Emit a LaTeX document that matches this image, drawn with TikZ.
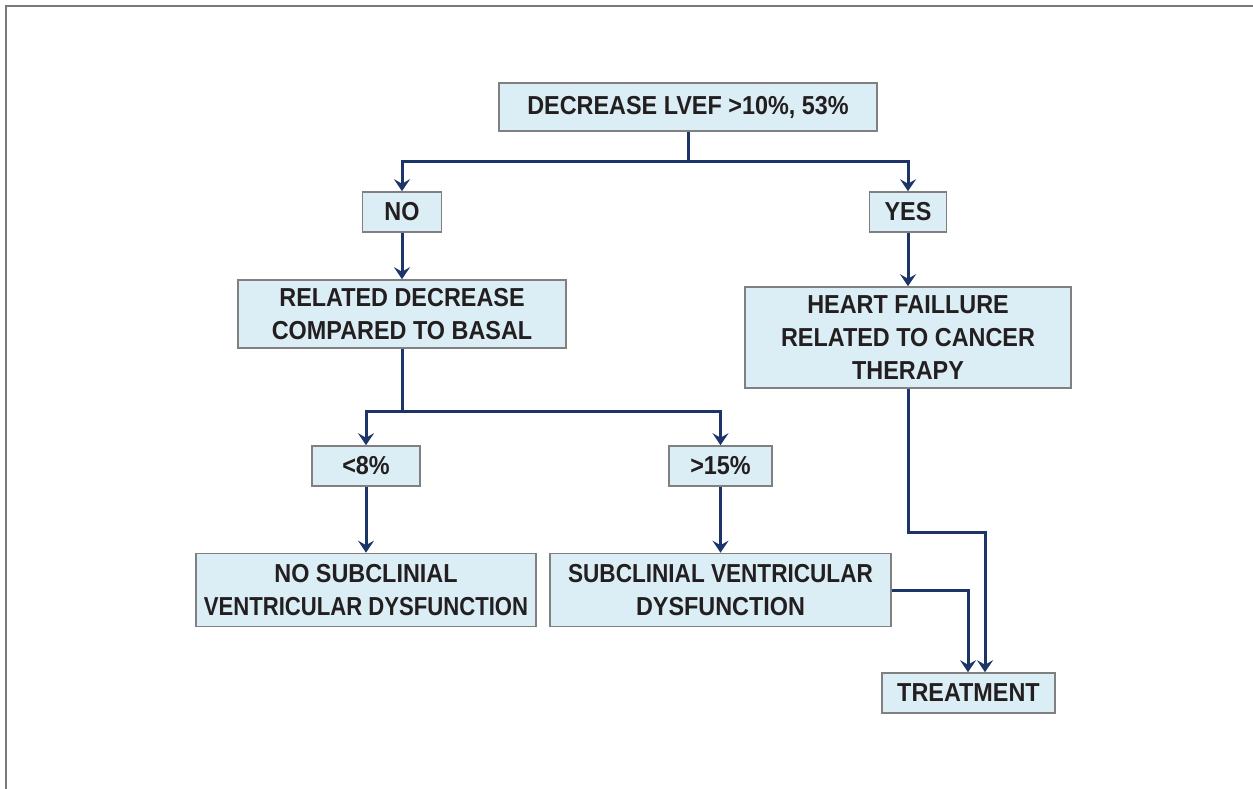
\documentclass[tikz,border=0pt]{standalone}
\usepackage{fontspec}
\setmainfont{Liberation Sans}[FakeStretch=0.9]
\usetikzlibrary{arrows.meta}
\definecolor{boxfill}{HTML}{DCEEF5}
\definecolor{boxline}{HTML}{808080}
\definecolor{arr}{HTML}{1C3468}
\definecolor{txt}{HTML}{231F20}
\definecolor{framecol}{HTML}{7A7A7A}
\newcommand{\hsq}[2]{\scalebox{#1}[1]{#2}}
\begin{document}
\begin{tikzpicture}[x=1pt,y=-1pt,
 box/.style={draw=boxline, line width=1.6pt, fill=boxfill, text=txt,
   font=\fontsize{26}{33}\selectfont\bfseries, align=center, inner sep=0pt,
   minimum height=40pt},
 conn/.style={draw=arr, line width=3pt},
 arrow/.style={conn, -{Stealth[length=12pt,width=16pt,inset=4.5pt]}}]
\useasboundingbox (0,0) rectangle (1253,789);
\draw[draw=framecol, line width=2pt] (6,789) -- (6,6) -- (1253,6);

\node[box, minimum width=378pt, minimum height=48pt] (d) at (688,107) {DECREASE LVEF >10\%, 53\%};
\node[box, minimum width=79pt] (no) at (402,212) {NO};
\node[box, minimum width=77pt] (yes) at (908,212) {YES};
\node[box, minimum width=328pt, minimum height=68pt] (rel) at (402,314) {RELATED DECREASE\\COMPARED TO BASAL};
\node[box, minimum width=326pt, minimum height=101pt] (heart) at (908,337.5) {HEART FAILLURE\\RELATED TO CANCER\\THERAPY};
\node[box, minimum width=108pt] (lt) at (366,466) {<8\%};
\node[box, minimum width=103pt] (gt) at (720.5,466) {>15\%};
\node[box, minimum width=340pt, minimum height=73pt] (nosub) at (366,590) {NO SUBCLINIAL\\\hsq{0.945}{VENTRICULAR DYSFUNCTION}};
\node[box, minimum width=341pt, minimum height=73pt] (sub) at (720.5,590) {\hsq{0.965}{SUBCLINIAL VENTRICULAR}\\DYSFUNCTION};
\node[box, minimum width=173pt] (treat) at (968.5,693) {TREATMENT};

\coordinate (s1) at (688,162);
\draw[conn] (d.south) -- (s1);
\draw[arrow] (s1) -| (no.north);
\draw[arrow] (s1) -| (yes.north);
\draw[arrow] (no.south) -- (rel.north);
\draw[arrow] (yes.south) -- (heart.north);

\coordinate (s2) at (402,411);
\draw[conn] (rel.south) -- (s2);
\draw[arrow] (s2) -| (lt.north);
\draw[arrow] (s2) -| (gt.north);
\draw[arrow] (lt.south) -- (nosub.north);
\draw[arrow] (gt.south) -- (sub.north);

\draw[arrow] (sub.east) -| ([xshift=-0.5pt]treat.north);
\draw[arrow] (heart.south) -- ++(0,144) -| ([xshift=16.5pt]treat.north);
\end{tikzpicture}
\end{document}
